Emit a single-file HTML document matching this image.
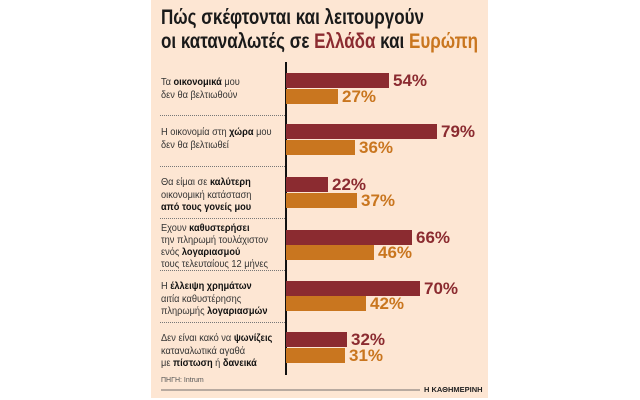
<!DOCTYPE html>
<html><head><meta charset="utf-8"><style>
body{margin:0;width:640px;height:400px;background:#fff;position:relative;overflow:hidden;font-family:"Liberation Sans","DejaVu Sans",sans-serif}
#p{position:absolute;left:151px;top:0;width:337px;height:398px;background:#fde6d3}
.a{position:absolute}
.t{left:161px;font-size:21px;font-weight:bold;color:#1a1a1a;white-space:nowrap;transform:scaleX(0.81);transform-origin:0 0}
.l{left:161px;font-size:10.5px;line-height:12.5px;color:#333;white-space:nowrap;transform:scaleX(0.88);transform-origin:0 0}
.l b{color:#111}
.r{background:#8b2b30;height:15px;left:286px}
.o{background:#c9761f;height:15px;left:286px}
.v{font-size:17px;font-weight:bold;line-height:15px}
.s{left:160px;width:125px;border-top:1px dotted #777}
</style></head><body>
<div id="p"></div>
<div class="a t" style="top:6px">Πώς σκέφτονται και λειτουργούν</div>
<div class="a t" style="top:30px">οι καταναλωτές σε <span style="color:#8b2b30">Ελλάδα</span> και <span style="color:#c9761f">Ευρώπη</span></div>
<div class="a" style="left:285px;top:62px;width:1.5px;height:313px;background:#111"></div>

<div class="a l" style="top:76px">Τα <b>οικονομικά</b> μου<br>δεν θα βελτιωθούν</div>
<div class="a r" style="top:73px;width:103px"></div><div class="a v" style="top:73px;left:393px;color:#8b2b30">54%</div>
<div class="a o" style="top:89px;width:52px"></div><div class="a v" style="top:89px;left:342px;color:#c9761f">27%</div>
<div class="a s" style="top:115px"></div>

<div class="a l" style="top:126px">Η οικονομία στη <b>χώρα</b> μου<br>δεν θα βελτιωθεί</div>
<div class="a r" style="top:124px;width:151px"></div><div class="a v" style="top:124px;left:441px;color:#8b2b30">79%</div>
<div class="a o" style="top:140px;width:69px"></div><div class="a v" style="top:140px;left:359px;color:#c9761f">36%</div>
<div class="a s" style="top:166px"></div>

<div class="a l" style="top:176px">Θα είμαι σε <b>καλύτερη</b><br>οικονομική κατάσταση<br><b>από τους γονείς μου</b></div>
<div class="a r" style="top:177px;width:42px"></div><div class="a v" style="top:177px;left:332px;color:#8b2b30">22%</div>
<div class="a o" style="top:193px;width:71px"></div><div class="a v" style="top:193px;left:361px;color:#c9761f">37%</div>
<div class="a s" style="top:218px"></div>

<div class="a l" style="top:222px;line-height:12px">Εχουν <b>καθυστερήσει</b><br>την πληρωμή τουλάχιστον<br>ενός <b>λογαριασμού</b><br>τους τελευταίους 12 μήνες</div>
<div class="a r" style="top:230px;width:126px"></div><div class="a v" style="top:230px;left:416px;color:#8b2b30">66%</div>
<div class="a o" style="top:245px;width:88px"></div><div class="a v" style="top:245px;left:378px;color:#c9761f">46%</div>
<div class="a s" style="top:270px"></div>

<div class="a l" style="top:280px">Η <b>έλλειψη χρημάτων</b><br>αιτία καθυστέρησης<br>πληρωμής <b>λογαριασμών</b></div>
<div class="a r" style="top:281px;width:134px"></div><div class="a v" style="top:281px;left:424px;color:#8b2b30">70%</div>
<div class="a o" style="top:296px;width:80px"></div><div class="a v" style="top:296px;left:370px;color:#c9761f">42%</div>
<div class="a s" style="top:322px"></div>

<div class="a l" style="top:332px">Δεν είναι κακό να <b>ψωνίζεις</b><br>καταναλωτικά αγαθά<br>με <b>πίστωση</b> ή <b>δανεικά</b></div>
<div class="a r" style="top:332px;width:61px"></div><div class="a v" style="top:332px;left:351px;color:#8b2b30">32%</div>
<div class="a o" style="top:348px;width:59px"></div><div class="a v" style="top:348px;left:349px;color:#c9761f">31%</div>

<div class="a" style="left:161px;top:377px;font-size:7px;color:#555">ΠΗΓΗ: Intrum</div>
<div class="a" style="left:161px;top:389px;width:259px;height:2px;background:#b8aaa0"></div>
<div class="a" style="left:424px;top:385px;font-size:7.5px;color:#222;font-weight:bold">Η ΚΑΘΗΜΕΡΙΝΗ</div>
</body></html>
